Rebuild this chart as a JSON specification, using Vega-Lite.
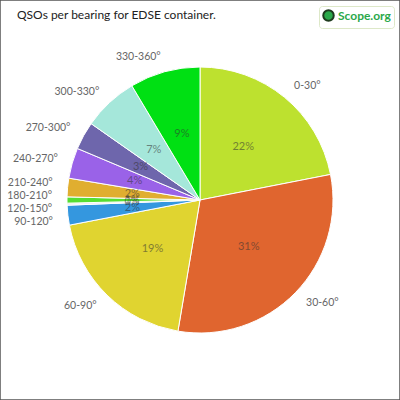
{
  "$schema": "https://vega.github.io/schema/vega-lite/v6.json",
  "width": 400,
  "height": 400,
  "padding": 0,
  "autosize": {"type": "none"},
  "background": "white",
  "view": {"stroke": "#555555", "strokeWidth": 1.5},
  "title": {
    "text": "QSOs per bearing for EDSE container.",
    "anchor": "start",
    "frame": "group",
    "orient": "top",
    "offset": -22,
    "dx": 17,
    "font": "Lato",
    "fontSize": 12,
    "fontWeight": "normal",
    "color": "#222222"
  },
  "datasets": {
    "bearings": [
      {"bearing": "0-30°", "start": 0, "share": 0.219},
      {"bearing": "30-60°", "start": 30, "share": 0.307},
      {"bearing": "60-90°", "start": 60, "share": 0.193},
      {"bearing": "90-120°", "start": 90, "share": 0.024},
      {"bearing": "120-150°", "start": 120, "share": 0.0025},
      {"bearing": "180-210°", "start": 180, "share": 0.0075},
      {"bearing": "210-240°", "start": 210, "share": 0.0225},
      {"bearing": "240-270°", "start": 240, "share": 0.037},
      {"bearing": "270-300°", "start": 270, "share": 0.034},
      {"bearing": "300-330°", "start": 300, "share": 0.067},
      {"bearing": "330-360°", "start": 330, "share": 0.0855}
    ],
    "logo": [{"brand": "Scope.org"}]
  },
  "layer": [
    {
      "data": {"name": "bearings"},
      "mark": {"type": "arc", "outerRadius": 133, "stroke": "white", "strokeWidth": 1},
      "encoding": {
        "theta": {"field": "share", "type": "quantitative", "stack": true},
        "order": {"field": "start", "type": "quantitative"},
        "color": {
          "field": "bearing",
          "type": "nominal",
          "legend": null,
          "scale": {
            "domain": ["0-30°", "30-60°", "60-90°", "90-120°", "120-150°", "180-210°", "210-240°", "240-270°", "270-300°", "300-330°", "330-360°"],
            "range": ["#BDE12F", "#E0652F", "#E0D430", "#3497DF", "#ECE8F6", "#55DD33", "#E0AE30", "#9A62E8", "#6E66AC", "#A5E7DA", "#00E013"]
          }
        }
      }
    },
    {
      "data": {"name": "bearings"},
      "mark": {"type": "text", "radius": 68, "font": "Lato", "fontSize": 11, "fill": "#333333", "opacity": 0.55},
      "encoding": {
        "theta": {"field": "share", "type": "quantitative", "stack": true},
        "order": {"field": "start", "type": "quantitative"},
        "text": {"field": "share", "type": "quantitative", "format": ".0%"}
      }
    },
    {
      "data": {"name": "bearings"},
      "mark": {
        "type": "text",
        "radius": 148,
        "font": "Lato",
        "fontSize": 10.5,
        "fill": "#666666",
        "align": {"expr": "datum.start < 60 ? 'left' : 'right'"},
        "dy": {"expr": "datum.start == 210 ? -3 : datum.start == 180 ? -4 : datum.start == 120 ? 4 : datum.start == 90 ? 5 : 0"}
      },
      "encoding": {
        "theta": {"field": "share", "type": "quantitative", "stack": true},
        "order": {"field": "start", "type": "quantitative"},
        "text": {"field": "bearing", "type": "nominal"}
      }
    },
    {
      "data": {"name": "logo"},
      "mark": {"type": "point", "opacity": 0},
      "encoding": {
        "fill": {
          "field": "brand",
          "type": "nominal",
          "scale": {"range": ["#2BA84A"]},
          "legend": {
            "title": null,
            "orient": "top-right",
            "offset": 6,
            "padding": 3,
            "strokeColor": "#DDE8C8",
            "cornerRadius": 3,
            "symbolType": "circle",
            "symbolSize": 110,
            "symbolStrokeColor": "#1E3A1E",
            "symbolStrokeWidth": 2,
            "symbolFillColor": "#2BA84A",
            "symbolOpacity": 1,
            "labelColor": "#2BA84A",
            "labelFont": "Lato",
            "labelFontSize": 12,
            "labelFontWeight": "bold",
            "labelOffset": 3
          }
        }
      }
    }
  ]
}
